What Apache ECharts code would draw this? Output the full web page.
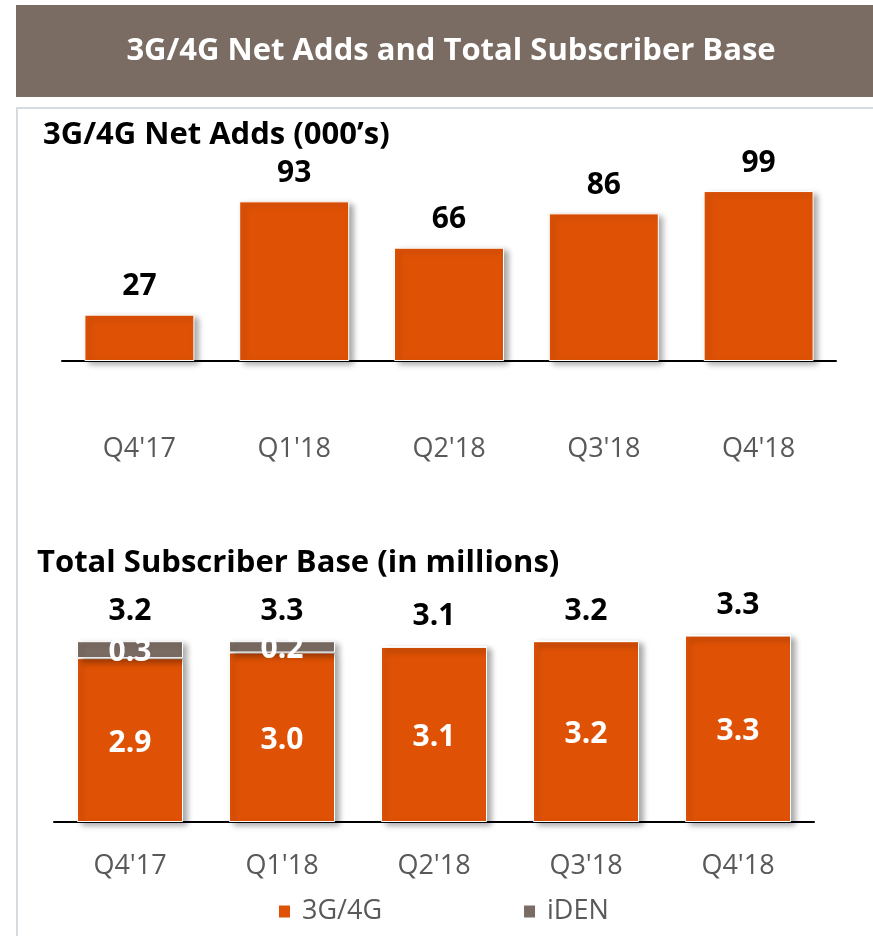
<!DOCTYPE html>
<html>
<head>
<meta charset="utf-8">
<script src="https://cdn.jsdelivr.net/npm/echarts@6/dist/echarts.min.js"></script>
<style>
  html, body { margin: 0; padding: 0; background: #fff; }
  #chart { width: 873px; height: 936px; }
</style>
</head>
<body>
<div id="chart"></div>
<script>
// data
const quarters = ["Q4'17", "Q1'18", "Q2'18", "Q3'18", "Q4'18"];
const netAdds = [27, 93, 66, 86, 99];
const subs3g4g = [2.9, 3.0, 3.1, 3.2, 3.3];
const subsIden = [0.3, 0.2, 0, 0, 0];
const subsTotal = [3.2, 3.3, 3.1, 3.2, 3.3];

const ORANGE = '#DF5206';
const TAUPE = '#7A6C63';
const FONT = '"Open Sans", "Noto Sans", sans-serif';

const barShadow = {
  borderColor: '#fff',
  borderWidth: 1,
  shadowColor: 'rgba(0,0,0,0.35)',
  shadowBlur: 6,
  shadowOffsetX: 4,
  shadowOffsetY: 3
};

const chart = echarts.init(document.getElementById('chart'));

chart.setOption({
  animation: false,
  textStyle: { fontFamily: FONT },
  graphic: [
    { type: 'rect', shape: { x: 16, y: 5, width: 857, height: 92 }, style: { fill: TAUPE } },
    { type: 'polyline', shape: { points: [[17, 936], [17, 108], [873, 108]] },
      style: { stroke: '#d6dbdf', lineWidth: 2, fill: null } }
  ],
  title: [
    { text: '3G/4G Net Adds and Total Subscriber Base', left: 446, top: 31, textAlign: 'center',
      textStyle: { color: '#fff', fontSize: 31, fontWeight: 'bold', fontFamily: FONT } },
    { text: '3G/4G Net Adds (000\u2019s)', left: 38, top: 115,
      textStyle: { color: '#000', fontSize: 31, fontWeight: 'bold', fontFamily: FONT } },
    { text: 'Total Subscriber Base (in millions)', left: 32, top: 543,
      textStyle: { color: '#000', fontSize: 31, fontWeight: 'bold', fontFamily: FONT } }
  ],
  legend: {
    data: ['3G/4G', 'iDEN'],
    left: 272, top: 893,
    icon: 'rect', itemWidth: 13, itemHeight: 14, itemGap: 140,
    textStyle: { color: '#595959', fontSize: 27, fontFamily: FONT, padding: [0, 0, 0, 6] }
  },
  grid: [
    { left: 62, right: 37, top: 155, bottom: 575 },
    { left: 54, right: 59, top: 596, bottom: 114 }
  ],
  xAxis: [
    { gridIndex: 0, type: 'category', data: quarters,
      axisLine: { lineStyle: { color: '#000', width: 2 } }, axisTick: { show: false },
      axisLabel: { color: '#595959', fontSize: 27, margin: 75, fontFamily: FONT } },
    { gridIndex: 1, type: 'category', data: quarters,
      axisLine: { lineStyle: { color: '#000', width: 2 } }, axisTick: { show: false },
      axisLabel: { color: '#595959', fontSize: 27, margin: 31, fontFamily: FONT } }
  ],
  yAxis: [
    { gridIndex: 0, type: 'value', min: 0, max: 120, show: false, splitLine: { show: false } },
    { gridIndex: 1, type: 'value', min: 0, max: 4, show: false, splitLine: { show: false } }
  ],
  series: [
    {
      name: 'Net Adds', type: 'bar', xAxisIndex: 0, yAxisIndex: 0,
      data: netAdds, barWidth: 110,
      itemStyle: Object.assign({ color: ORANGE }, barShadow),
      label: { show: true, position: 'top', distance: 13, color: '#000',
        fontSize: 30, fontWeight: 'bold', fontFamily: FONT }
    },
    {
      name: '3G/4G', type: 'bar', xAxisIndex: 1, yAxisIndex: 1, stack: 'subs',
      data: subs3g4g, barWidth: 106,
      itemStyle: Object.assign({ color: ORANGE }, barShadow),
      label: { show: true, position: 'inside', color: '#fff', fontSize: 30, fontWeight: 'bold',
        fontFamily: FONT, offset: [0, 3], formatter: p => p.value.toFixed(1) }
    },
    {
      name: 'iDEN', type: 'bar', xAxisIndex: 1, yAxisIndex: 1, stack: 'subs',
      data: subsIden, barWidth: 106,
      itemStyle: Object.assign({ color: TAUPE }, barShadow),
      label: { show: true, position: 'inside', color: '#fff', fontSize: 30, fontWeight: 'bold',
        fontFamily: FONT, offset: [0, 3], formatter: p => (p.value ? p.value.toFixed(1) : '') }
    },
    {
      name: 'Total', type: 'bar', xAxisIndex: 1, yAxisIndex: 1, stack: 'subs',
      data: subsTotal.map(() => 0), barWidth: 106,
      itemStyle: { color: 'rgba(0,0,0,0)' },
      label: { show: true, position: 'top', distance: 15, color: '#000', fontSize: 30,
        fontWeight: 'bold', fontFamily: FONT, formatter: p => subsTotal[p.dataIndex].toFixed(1) }
    }
  ]
});
</script>
</body>
</html>
